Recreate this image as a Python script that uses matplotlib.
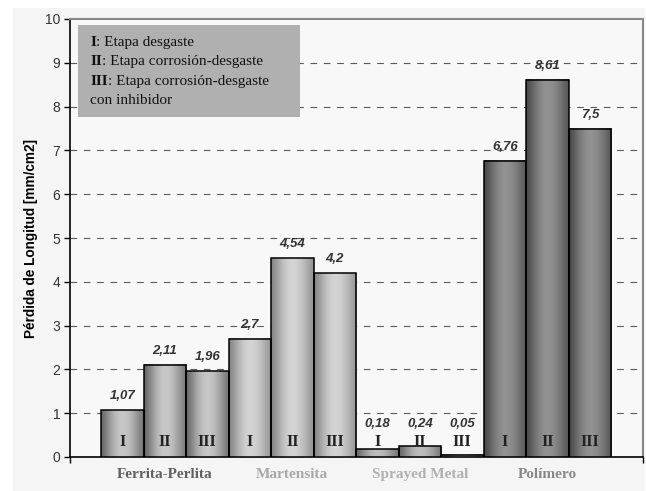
import numpy as np
import matplotlib
matplotlib.use("Agg")
import matplotlib.pyplot as plt
from matplotlib.patches import Rectangle

# datos
materiales = ["Ferrita-Perlita", "Martensita", "Sprayed Metal", "Polímero"]
etapas = ["I", "II", "III"]
ferrita = [1.07, 2.11, 1.96]
martensita = [2.7, 4.54, 4.2]
sprayed = [0.18, 0.24, 0.05]
polimero = [6.76, 8.61, 7.5]
valores = [ferrita, martensita, sprayed, polimero]

leyenda = [("I", ": Etapa desgaste"),
           ("II", ": Etapa corrosión-desgaste"),
           ("III", ": Etapa corrosión-desgaste"),
           ("", "con inhibidor")]

# tonos (borde, centro) del degradado de cada grupo y color del rotulo
tonos = [(0.40, 0.78), (0.52, 0.83), (0.40, 0.74), (0.28, 0.57)]
color_rotulo = ["#606060", "#a8a8a8", "#b0b0b0", "#888888"]

sans = ["Liberation Sans", "DejaVu Sans"]
serif = ["Liberation Serif", "DejaVu Serif"]

fig = plt.figure(figsize=(6.46, 4.91), dpi=100, facecolor="white")
fig.patches.append(Rectangle((13 / 646, 0), 1 - 14 / 646, 1 - 8 / 491,
                             transform=fig.transFigure, facecolor="#f5f5f5",
                             edgecolor="none", zorder=-10))
ax = fig.add_axes([70 / 646, 1 - 457 / 491, 573 / 646, 438 / 491])
ax.set_facecolor("#f8f8f8")

xs = np.arange(12)
alturas = [v for grupo in valores for v in grupo]
barras = ax.bar(xs, alturas, width=1.0, facecolor="none", edgecolor="black",
                linewidth=1.1, zorder=4)

# degradado tipo cilindro dentro de cada barra
u = np.linspace(0, 1, 60)
for i, b in enumerate(barras):
    borde, pico = tonos[i // 3]
    perfil = np.where(u < 0.5,
                      borde + (pico - borde) * np.sin(np.pi * u) ** 1.2,
                      borde + 0.06 + (pico - borde - 0.06) * np.sin(np.pi * u) ** 1.2)
    img = np.repeat(perfil[None, :, None], 3, axis=2)
    ax.imshow(img, extent=[b.get_x(), b.get_x() + b.get_width(), 0, b.get_height()],
              aspect="auto", zorder=3, interpolation="bilinear")

ax.set_xlim(-1.23, 12.25)
ax.set_ylim(0, 10)

# etiquetas de valores
for i, b in enumerate(barras):
    h = b.get_height()
    txt = f"{h:g}".replace(".", ",")
    cx = b.get_x() + b.get_width() / 2
    if i // 3 == 2:
        ax.text(cx, 0.75, txt, ha="center", va="center", fontsize=9.5,
                fontstyle="italic", fontweight="bold", color="#333333",
                family=sans, zorder=5)
    else:
        ax.annotate(txt, (cx, h), xytext=(0, 14), textcoords="offset pixels",
                    ha="center", va="center", fontsize=9.5, fontstyle="italic",
                    fontweight="bold", color="#333333", family=sans, zorder=5)
    ax.text(cx, 0.35, etapas[i % 3], ha="center", va="center", fontsize=11.5,
            fontweight="bold", color="#222222", family=serif, zorder=5)

# rejilla
ax.set_yticks(range(11))
for y in range(1, 10):
    ax.axhline(y, color="#5a5a5a", lw=0.8, ls=(0, (6, 6)), zorder=1)

ax.tick_params(axis="y", direction="out", length=4, width=1, pad=3,
               labelsize=10, labelcolor="#333333")
for t in ax.get_yticklabels():
    t.set_family(sans)

centros = [1, 4, 7, 10]
ax.set_xticks(centros)
ax.set_xticklabels(materiales)
ax.tick_params(axis="x", length=0, pad=8)
for t, c in zip(ax.get_xticklabels(), color_rotulo):
    t.set_family(serif)
    t.set_fontweight("bold")
    t.set_fontsize(11)
    t.set_color(c)
ax.set_xticks([-1.23, 12.25], minor=True)
ax.tick_params(axis="x", which="minor", direction="out", length=4, width=1)

ax.set_ylabel("Pérdida de Longitud [mm/cm2]", fontsize=9.8, fontweight="bold",
              family=sans, labelpad=5)

for s in ["left", "bottom"]:
    ax.spines[s].set_color("black")
    ax.spines[s].set_linewidth(1.2)
for s in ["top", "right"]:
    ax.spines[s].set_color("#888888")
    ax.spines[s].set_linewidth(1.5)

# cuadro de leyenda
ax.add_patch(Rectangle((0.014, 0.776), 0.387, 0.21, transform=ax.transAxes,
                       facecolor="#b0b0b0", edgecolor="none", zorder=6))
ys = [0.947, 0.902, 0.858, 0.815]
for (num, resto), y in zip(leyenda, ys):
    if num:
        t1 = ax.text(0.035, y, num, transform=ax.transAxes, ha="left",
                     va="center", fontsize=11, fontweight="bold",
                     family=serif, color="#111111", zorder=7)
        ax.annotate(resto, xy=(1, 0.5), xycoords=t1, ha="left", va="center",
                    fontsize=11, family=serif, color="#111111", zorder=7)
    else:
        ax.text(0.035, y, resto, transform=ax.transAxes, ha="left",
                va="center", fontsize=11, family=serif, color="#111111",
                zorder=7)

fig.savefig("out.png", dpi=100, facecolor=fig.get_facecolor())
